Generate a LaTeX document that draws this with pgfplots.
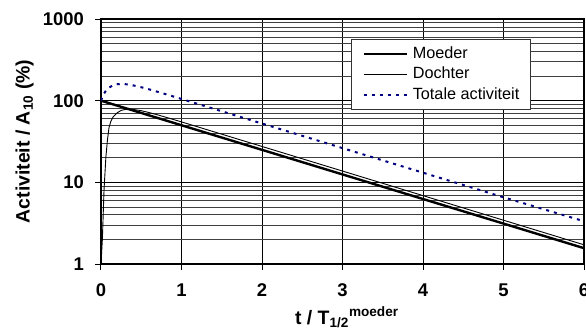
\documentclass[border=0pt]{standalone}
\usepackage{pgfplots}
\pgfplotsset{compat=1.18}
\usepackage{fontspec}
\setmainfont{Liberation Sans}
\definecolor{navyline}{RGB}{0,0,128}
\begin{document}
\begin{tikzpicture}
\path[use as bounding box] (-101bp,-67bp) rectangle (485bp,264bp);
\begin{axis}[
  scale only axis, width=483bp, height=245bp,
  xmin=0, xmax=6, ymin=1, ymax=1000, ymode=log,
  xtick={0,1,2,3,4,5,6}, xticklabels={0,1,2,3,4,5,6},
  ytick={1,10,100,1000}, yticklabels={1,10,100,1000},
  minor ytick={2,3,4,5,6,7,8,9,20,30,40,50,60,70,80,90,200,300,400,500,600,700,800,900},
  xmajorgrids, ymajorgrids, yminorgrids,
  major grid style={black, line width=0.9bp},
  minor grid style={black!75, line width=0.8bp},
  tick align=outside, tick pos=left,
  major tick length=6bp, minor tick length=0bp,
  tick style={black, line width=1bp},
  axis line style={black, line width=1.6bp},
  /pgf/number format/assume math mode=true,
  ticklabel style={font=\bfseries\fontsize{18.5}{20}\selectfont, inner sep=0pt},
  xticklabel style={anchor=base},
  yticklabel style={anchor=east},
  xticklabel shift=26.3bp,
  yticklabel shift=11bp,
  ylabel={Activiteit / A\textsubscript{10} (\%)},
  ylabel style={font=\bfseries\fontsize{19.5}{21}\selectfont, at={(axis description cs:-0.158,0.5)}, anchor=center, rotate=0},
  xlabel={t / T\textsubscript{1/2}\textsuperscript{moeder}},
  xlabel style={font=\bfseries\fontsize{19.5}{21}\selectfont, at={(axis description cs:0.509,-0.245)}, anchor=base},
  legend style={at={(0.5176,0.917)}, anchor=north west, draw=black!80, fill=white, line width=0.8bp,
    font=\fontsize{16.3}{18}\selectfont, row sep=5bp, column sep=5bp,
    inner xsep=11bp, inner ysep=6.5bp,
    nodes={inner sep=0bp, text height=12bp, text depth=3.5bp}},
  legend cell align=left,
  legend image code/.code={\draw[#1] (0bp,0bp) -- (43bp,0bp);},
]
\addplot[black, line width=2.4bp] coordinates {(0,100) (1,50) (2,25) (3,12.5) (4,6.25) (5,3.125) (6,1.5625)};
\addlegendentry{Moeder}
\addplot[black, line width=0.9bp] coordinates {
(0,1) (0.017,2) (0.0375,8) (0.06,20) (0.08,33) (0.1,47) (0.12,55) (0.15,63) (0.2,71) (0.25,76) (0.3,78.2) (0.4,78.2) (0.5,75.4) (0.6,71.4) (0.7,67.2) (0.8,62.9) (1,54.95) (2,27.5) (3,13.75) (4,6.875) (5,3.4375) (6,1.71875)};
\addlegendentry{Dochter}
\addplot[navyline, line width=2bp, dash pattern=on 3bp off 5bp] coordinates {
(0,100) (0.025,115.5) (0.05,127.7) (0.075,137.3) (0.1,144.6) (0.15,154.2) (0.2,158.9) (0.25,160.2) (0.3,159.4) (0.4,153.9) (0.5,146.1) (0.6,137.4) (0.7,128.7) (0.8,120.4) (1,104.95) (1.5,74.25) (2,52.5) (3,26.25) (4,13.125) (5,6.5625) (6,3.34)};
\addlegendentry{Totale activiteit}
\end{axis}
\end{tikzpicture}
\end{document}
